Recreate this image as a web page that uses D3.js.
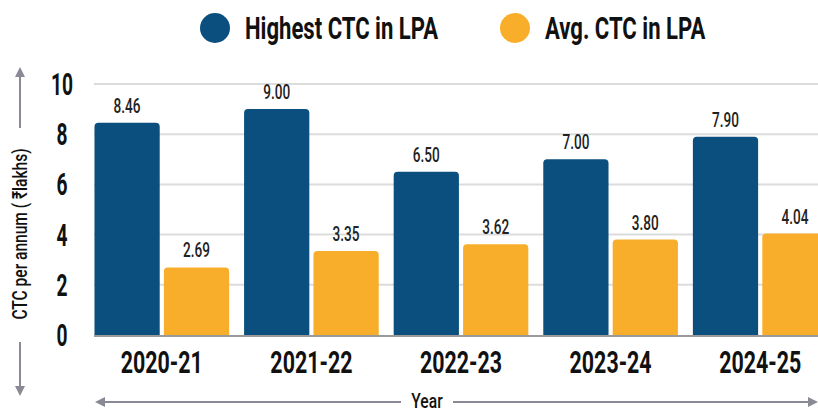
<!DOCTYPE html>
<html>
<head>
<meta charset="utf-8">
<script src="https://cdn.jsdelivr.net/npm/d3@7/dist/d3.min.js"></script>
<style>
    body { margin: 0; background: #fff; }
    svg { display: block; }
    text { font-family: "Roboto", "Liberation Sans", sans-serif; font-weight: bold; }
</style>
</head>
<body>
<script>
    var years = ["2020-21", "2021-22", "2022-23", "2023-24", "2024-25"];
    var highest = [8.46, 9.00, 6.50, 7.00, 7.90];
    var average = [2.69, 3.35, 3.62, 3.80, 4.04];
    var seriesNames = ["Highest CTC in LPA", "Avg. CTC in LPA"];
    var yTicks = [0, 2, 4, 6, 8, 10];

    var width = 818, height = 411;
    var colors = ["#0b4f7e", "#f8ae2a"];
    var plot = {"left": 94, "right": 818, "top": 84, "bottom": 335};

    var svg = d3.select("body").append("svg")
        .attr("width", width)
        .attr("height", height);

    // squeeze text horizontally, the original uses a tall condensed face
    function condense(sel, k) {
        sel.each(function() {
            var w = this.getComputedTextLength();
            d3.select(this)
                .attr("textLength", w * k)
                .attr("lengthAdjust", "spacingAndGlyphs");
        });
    }

    var xScale = d3.scaleBand()
        .domain(years)
        .range([87, 835])
        .paddingInner(0.1)
        .paddingOuter(0.05);

    var subScale = d3.scaleBand()
        .domain([0, 1])
        .range([0, xScale.bandwidth()])
        .paddingInner(0.06);

    var yScale = d3.scaleLinear()
        .domain([0, 10])
        .range([plot.bottom, plot.top]);

    //grid
    svg.append("g")
        .selectAll("line")
        .data(yTicks.slice(1))
        .enter()
        .append("line")
        .attr("x1", plot.left)
        .attr("x2", plot.right)
        .attr("y1", d => yScale(d))
        .attr("y2", d => yScale(d))
        .attr("stroke", "#dcdcdc")
        .attr("stroke-width", 2);

    //y tick labels
    var yLabels = svg.append("g")
        .selectAll("text")
        .data(yTicks)
        .enter()
        .append("text")
        .attr("x", 62)
        .attr("y", d => yScale(d) + 11)
        .attr("text-anchor", "middle")
        .style("font-size", "32px")
        .attr("fill", "#111")
        .text(d => d);
    condense(yLabels, 0.6);

    //bars
    var rows = years.map(function(y, i) {
        return {"year": y, "vals": [highest[i], average[i]]};
    });

    function topRounded(x, y, w, h, r) {
        return "M" + x + "," + (y + h) + "V" + (y + r) + "Q" + x + "," + y + " " + (x + r) + "," + y +
            "H" + (x + w - r) + "Q" + (x + w) + "," + y + " " + (x + w) + "," + (y + r) + "V" + (y + h) + "Z";
    }

    var groups = svg.append("g")
        .selectAll("g")
        .data(rows)
        .enter()
        .append("g")
        .attr("transform", d => "translate(" + xScale(d.year) + ",0)");

    groups.selectAll("path")
        .data(d => d.vals)
        .enter()
        .append("path")
        .attr("d", function(d, i) {
            return topRounded(subScale(i), yScale(d), subScale.bandwidth(), yScale(0) - yScale(d), 4);
        })
        .attr("fill", (d, i) => colors[i]);

    var valLabels = groups.selectAll("text")
        .data(d => d.vals)
        .enter()
        .append("text")
        .attr("x", (d, i) => subScale(i) + subScale.bandwidth() / 2)
        .attr("y", d => yScale(d) - 10)
        .attr("text-anchor", "middle")
        .style("font-size", "20px")
        .style("font-weight", "500")
        .attr("fill", "#222")
        .text(d => d.toFixed(2));
    condense(valLabels, 0.68);

    //baseline
    svg.append("line")
        .attr("x1", plot.left)
        .attr("x2", plot.right)
        .attr("y1", yScale(0) + 1)
        .attr("y2", yScale(0) + 1)
        .attr("stroke", "#9a9a9a")
        .attr("stroke-width", 2);

    //x labels
    var xLabels = svg.append("g")
        .selectAll("text")
        .data(years)
        .enter()
        .append("text")
        .attr("x", d => xScale(d) + xScale.bandwidth() / 2)
        .attr("y", 373)
        .attr("text-anchor", "middle")
        .style("font-size", "31px")
        .attr("fill", "#111")
        .text(d => d);
    condense(xLabels, 0.69);

    //axis titles with arrows
    var defs = svg.append("defs");
    defs.append("marker")
        .attr("id", "arrow")
        .attr("viewBox", "0 0 10 10")
        .attr("refX", 5)
        .attr("refY", 5)
        .attr("markerWidth", 5)
        .attr("markerHeight", 5)
        .attr("orient", "auto-start-reverse")
        .append("path")
        .attr("d", "M0,0L10,5L0,10Z")
        .attr("fill", "#8a8a96");

    var arrowColor = "#8a8a96";
    svg.append("line").attr("x1", 20).attr("y1", 128).attr("x2", 20).attr("y2", 72)
        .attr("stroke", arrowColor).attr("stroke-width", 2).attr("marker-end", "url(#arrow)");
    svg.append("line").attr("x1", 20).attr("y1", 342).attr("x2", 20).attr("y2", 391)
        .attr("stroke", arrowColor).attr("stroke-width", 2).attr("marker-end", "url(#arrow)");
    var yTitle = svg.append("text")
        .attr("transform", "translate(27,234) rotate(-90)")
        .attr("text-anchor", "middle")
        .style("font-size", "21px")
        .style("font-weight", "500")
        .attr("fill", "#111")
        .text("CTC per annum ( ₹lakhs)");
    condense(yTitle, 0.74);

    svg.append("line").attr("x1", 401).attr("y1", 402).attr("x2", 100).attr("y2", 402)
        .attr("stroke", arrowColor).attr("stroke-width", 2).attr("marker-end", "url(#arrow)");
    svg.append("line").attr("x1", 453).attr("y1", 402).attr("x2", 813).attr("y2", 402)
        .attr("stroke", arrowColor).attr("stroke-width", 2).attr("marker-end", "url(#arrow)");
    var xTitle = svg.append("text")
        .attr("x", 427)
        .attr("y", 408)
        .attr("text-anchor", "middle")
        .style("font-size", "20px")
        .style("font-weight", "500")
        .attr("fill", "#111")
        .text("Year");
    condense(xTitle, 0.78);

    //legend
    var legendX = [215, 515];
    var legend = svg.append("g")
        .selectAll("g")
        .data(seriesNames)
        .enter()
        .append("g")
        .attr("transform", (d, i) => "translate(" + legendX[i] + ",28)");
    legend.append("circle")
        .attr("r", 15)
        .attr("fill", (d, i) => colors[i]);
    var legendText = legend.append("text")
        .attr("x", 30)
        .attr("y", 11)
        .style("font-size", "32px")
        .attr("fill", "#111")
        .text(d => d);
    condense(legendText, 0.69);
</script>
</body>
</html>
